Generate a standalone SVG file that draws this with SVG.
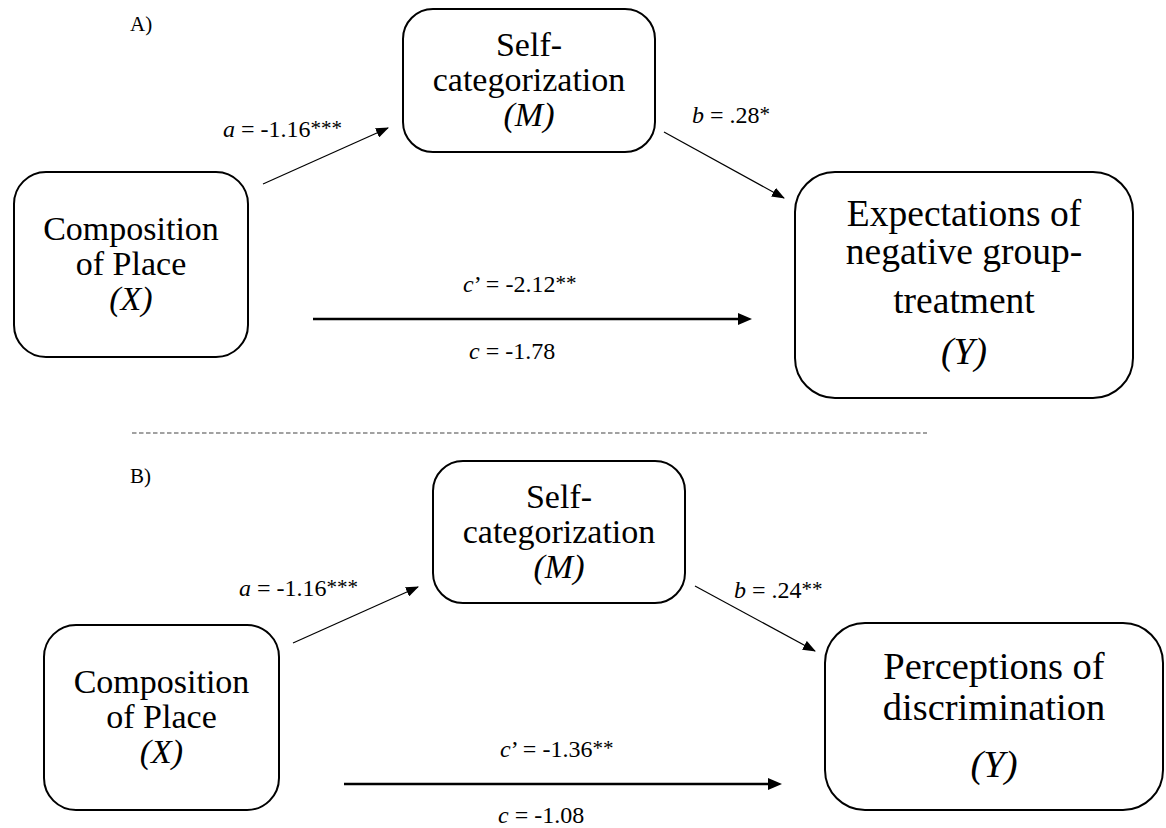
<svg xmlns="http://www.w3.org/2000/svg" width="1166" height="828" viewBox="0 0 1166 828">
  <style>
    .box { fill: #ffffff; stroke: #000000; stroke-width: 2; }
    .node { font-family: "Liberation Serif", "Times New Roman", serif; fill: #000000; text-anchor: middle; }
    .var { font-style: italic; }
    .lbl { font-family: "Liberation Serif", "Times New Roman", serif; font-size: 24px; fill: #000000; }
    .it { font-style: italic; }
    .sig { font-size: 21px; }
    .panel { font-family: "Liberation Serif", "Times New Roman", serif; font-size: 21px; fill: #000000; }
    .path { stroke: #000000; stroke-width: 1.2; fill: none; marker-end: url(#head); }
    .direct { stroke: #000000; stroke-width: 2.6; fill: none; marker-end: url(#headBold); }
    .divider { stroke: #444444; stroke-width: 1.2; stroke-dasharray: 4.5 2.5; fill: none; }
  </style>
  <defs>
    <marker id="head" markerUnits="userSpaceOnUse" viewBox="0 0 13 10" refX="12" refY="5" markerWidth="13" markerHeight="10" orient="auto">
      <path d="M0,0 L13,5 L0,10 z" fill="#000000"/>
    </marker>
    <marker id="headBold" markerUnits="userSpaceOnUse" viewBox="0 0 14 12" refX="8" refY="6" markerWidth="14" markerHeight="12" orient="auto">
      <path d="M0,0 L14,6 L0,12 z" fill="#000000"/>
    </marker>
  </defs>

  <rect width="1166" height="828" fill="#ffffff"/>

  <!-- panel A -->
  <text class="panel" x="130" y="31">A)</text>

  <g id="a-X">
    <rect class="box" x="14" y="172" width="234" height="185" rx="32" ry="32"/>
    <text class="node" font-size="34" x="131" y="240">Composition</text>
    <text class="node" font-size="34" x="131" y="275">of Place</text>
    <text class="node var" font-size="34" x="131" y="310">(X)</text>
  </g>

  <g id="a-M">
    <rect class="box" x="403" y="9" width="252" height="143" rx="30" ry="30"/>
    <text class="node" font-size="34" x="529" y="56">Self-</text>
    <text class="node" font-size="34" x="529" y="91">categorization</text>
    <text class="node var" font-size="34" x="529" y="126">(M)</text>
  </g>

  <g id="a-Y">
    <rect class="box" x="795" y="172" width="338" height="226" rx="40" ry="40"/>
    <text class="node" font-size="37.5" x="964" y="226">Expectations of</text>
    <text class="node" font-size="37.5" x="964" y="264">negative group-</text>
    <text class="node" font-size="37.5" x="964" y="313">treatment</text>
    <text class="node var" font-size="37.5" x="964" y="364">(Y)</text>
  </g>

  <g id="a-connectors">
    <path class="path" d="M263,184 L388,128"/>
    <path class="path" d="M664,132 L784,198"/>
    <path class="direct" d="M313,319 L746,319"/>
  </g>

  <g id="a-labels">
    <text class="lbl" x="223" y="137"><tspan class="it">a</tspan> = -1.16<tspan class="sig" dy="-2">***</tspan></text>
    <text class="lbl" x="692" y="123"><tspan class="it">b</tspan> = .28<tspan class="sig" dy="-2">*</tspan></text>
    <text class="lbl" x="463" y="292"><tspan class="it">c</tspan>’ = -2.12<tspan class="sig" dy="-2">**</tspan></text>
    <text class="lbl" x="469" y="359"><tspan class="it">c</tspan> = -1.78</text>
  </g>

  <!-- separator between the two models -->
  <path class="divider" d="M132,433 L927,433"/>

  <!-- panel B -->
  <text class="panel" x="130" y="483">B)</text>

  <g id="b-X">
    <rect class="box" x="44" y="625" width="235" height="185" rx="32" ry="32"/>
    <text class="node" font-size="34" x="161.5" y="693">Composition</text>
    <text class="node" font-size="34" x="161.5" y="728">of Place</text>
    <text class="node var" font-size="34" x="161.5" y="763">(X)</text>
  </g>

  <g id="b-M">
    <rect class="box" x="433" y="461" width="252" height="142" rx="30" ry="30"/>
    <text class="node" font-size="34" x="559" y="508">Self-</text>
    <text class="node" font-size="34" x="559" y="543">categorization</text>
    <text class="node var" font-size="34" x="559" y="578">(M)</text>
  </g>

  <g id="b-Y">
    <rect class="box" x="825" y="623" width="338" height="187" rx="40" ry="40"/>
    <text class="node" font-size="38.5" x="994" y="679">Perceptions of</text>
    <text class="node" font-size="38.5" x="994" y="720">discrimination</text>
    <text class="node var" font-size="38.5" x="994" y="777">(Y)</text>
  </g>

  <g id="b-connectors">
    <path class="path" d="M293,643 L418,587"/>
    <path class="path" d="M695,586 L815,651"/>
    <path class="direct" d="M344,784 L776,784"/>
  </g>

  <g id="b-labels">
    <text class="lbl" x="239" y="596"><tspan class="it">a</tspan> = -1.16<tspan class="sig" dy="-2">***</tspan></text>
    <text class="lbl" x="734" y="598"><tspan class="it">b</tspan> = .24<tspan class="sig" dy="-2">**</tspan></text>
    <text class="lbl" x="500" y="757"><tspan class="it">c</tspan>’ = -1.36<tspan class="sig" dy="-2">**</tspan></text>
    <text class="lbl" x="498" y="823"><tspan class="it">c</tspan> = -1.08</text>
  </g>
</svg>
